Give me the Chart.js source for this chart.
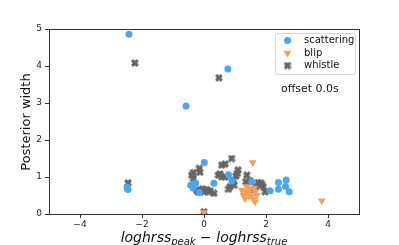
<!DOCTYPE html>
<html>
<head>
<meta charset="utf-8">
<script src="https://cdn.jsdelivr.net/npm/chart.js@4"></script>
<style>
    html, body { margin: 0; padding: 0; background: #fff; }
    #wrap { width: 399px; height: 245px; }
</style>
</head>
<body>
<div id="wrap"><canvas id="posteriorChart" width="399" height="245"></canvas></div>
<script>
const scatteringX = [-2.42, -0.58, 0.77, -2.48, -2.45, -2.47, 0.01, -0.43, -0.35, -0.27, -0.15, 0.32, 0.79, 0.9, 1.54, 2.13, 2.4, 2.4, 2.65, 2.63, 2.75];
const scatteringY = [4.86, 2.92, 3.92, 0.73, 0.66, 0.69, 1.39, 0.78, 0.7, 0.83, 0.58, 0.83, 1.06, 0.9, 0.87, 0.63, 0.85, 0.67, 0.92, 0.74, 0.6];

const blipX = [1.57, 3.8, 0.0, 1.22, 1.27, 1.32, 1.38, 1.43, 1.48, 1.54, 1.59, 1.65, 1.7, 1.65, 1.35, 1.45, 1.62];
const blipY = [1.39, 0.36, 0.04, 0.65, 0.51, 0.42, 0.74, 0.56, 0.69, 0.47, 0.4, 0.6, 0.51, 0.33, 0.6, 0.48, 0.7];

const whistleX = [-2.23, 0.48, -2.45, 0.0,
    -0.4, -0.34, -0.15, -0.13, -0.34, -0.24, -0.2, -0.1, 0.0, 0.1, 0.15, -0.05, 0.05, 0.2, 0.32,
    0.57, 0.68, 0.89, 0.46, 0.57, 0.52, 0.68, 1.1, 1.08, 1.03, 0.84, 0.79, 0.97, 0.95, 1.38, 1.35, 1.48,
    1.75, 1.84, 1.91, 1.97, 1.68, 1.59, 1.86];
const whistleY = [4.08, 3.68, 0.84, 0.06,
    1.05, 1.12, 1.23, 1.13, 0.96, 0.65, 0.6, 0.62, 0.6, 0.66, 0.6, 0.68, 0.64, 0.62, 0.56,
    1.32, 1.35, 1.5, 1.05, 1.0, 1.08, 1.0, 1.19, 1.1, 1.03, 0.74, 0.67, 0.78, 0.92, 1.05, 0.87, 0.9,
    0.85, 0.83, 0.74, 0.6, 0.74, 0.65, 0.8];

const xTicks = [-4, -2, 0, 2, 4];
const yTicks = [0, 1, 2, 3, 4, 5];

const BLUE = '#4aa6f2';
const ORANGE = '#f5a05a';
const GRAY = '#666666';

function toPoints(xs, ys) {
    return xs.map((x, i) => ({ x: x, y: ys[i] }));
}

// filled "X" marker like matplotlib's 'X'
function makeXMarker(size, color) {
    const c = document.createElement('canvas');
    c.width = size;
    c.height = size;
    const g = c.getContext('2d');
    const s = size / 2;
    const w = size * 0.19;
    g.translate(s, s);
    g.rotate(Math.PI / 4);
    g.fillStyle = color;
    g.fillRect(-s, -w, size, 2 * w);
    g.fillRect(-w, -s, 2 * w, size);
    return c;
}
const xMarker = makeXMarker(8, GRAY);

const textPlugin = {
    id: 'textPlugin',
    afterDraw(chart) {
        const ctx = chart.ctx;
        const area = chart.chartArea;
        ctx.save();

        // spines
        ctx.strokeStyle = '#333';
        ctx.lineWidth = 1;
        ctx.strokeRect(Math.round(area.left) + 0.5, Math.round(area.top) + 0.5,
            Math.round(area.right - area.left), Math.round(area.bottom - area.top));

        // legend
        const lx = 275, ly = 33, lw = 80, lh = 41;
        ctx.beginPath();
        ctx.roundRect(lx + 0.5, ly + 0.5, lw, lh, 2);
        ctx.fillStyle = 'rgba(255,255,255,0.8)';
        ctx.fill();
        ctx.strokeStyle = '#d6d6d6';
        ctx.stroke();

        const rows = [
            { label: 'scattering', y: 40.5 },
            { label: 'blip', y: 53 },
            { label: 'whistle', y: 65.5 },
        ];
        ctx.fillStyle = BLUE;
        ctx.beginPath();
        ctx.arc(287.5, rows[0].y, 3.5, 0, Math.PI * 2);
        ctx.fill();
        ctx.fillStyle = ORANGE;
        ctx.strokeStyle = ORANGE;
        Chart.helpers.drawPoint(ctx, { pointStyle: 'triangle', radius: 4.5, rotation: 180, borderWidth: 0 }, 287.5, rows[1].y);
        ctx.drawImage(xMarker, 283.5, rows[2].y - 4);

        ctx.fillStyle = '#111';
        ctx.font = '10px "DejaVu Sans"';
        ctx.textBaseline = 'middle';
        ctx.textAlign = 'left';
        rows.forEach(r => ctx.fillText(r.label, 304, r.y));

        // annotation
        ctx.font = '11px "DejaVu Sans"';
        ctx.fillText('offset 0.0s', 281, 89);

        // y title
        ctx.save();
        ctx.translate(27, 122);
        ctx.rotate(-Math.PI / 2);
        ctx.textAlign = 'center';
        ctx.font = '13px "DejaVu Sans"';
        ctx.fillText('Posterior width', 0, 0);
        ctx.restore();

        // x title with subscripts
        const parts = [
            { t: 'loghrss', f: 'italic 14px "DejaVu Sans"', dy: 0 },
            { t: 'peak', f: 'italic 10px "DejaVu Sans"', dy: 3 },
            { t: ' \u2212 ', f: '14px "DejaVu Sans"', dy: 0 },
            { t: 'loghrss', f: 'italic 14px "DejaVu Sans"', dy: 0 },
            { t: 'true', f: 'italic 10px "DejaVu Sans"', dy: 3 },
        ];
        let total = 0;
        parts.forEach(p => { ctx.font = p.f; p.w = ctx.measureText(p.t).width; total += p.w; });
        let x = 204 - total / 2;
        ctx.textBaseline = 'alphabetic';
        parts.forEach(p => {
            ctx.font = p.f;
            ctx.fillText(p.t, x, 242 + p.dy);
            x += p.w;
        });
        ctx.restore();
    }
};

const chartCtx = document.getElementById('posteriorChart').getContext('2d');

const posteriorChart = new Chart(chartCtx, {
    type: 'scatter',
    data: {
        datasets: [
            {
                label: 'scattering',
                data: toPoints(scatteringX, scatteringY),
                backgroundColor: BLUE,
                borderWidth: 0,
                pointRadius: 3.5,
                pointStyle: 'circle',
            },
            {
                label: 'blip',
                data: toPoints(blipX, blipY),
                backgroundColor: ORANGE,
                borderColor: ORANGE,
                borderWidth: 0,
                pointRadius: 4.5,
                pointStyle: 'triangle',
                rotation: 180,
            },
            {
                label: 'whistle',
                data: toPoints(whistleX, whistleY),
                backgroundColor: GRAY,
                pointStyle: xMarker,
            },
        ],
    },
    options: {
        responsive: false,
        animation: false,
        events: [],
        layout: {
            padding: { left: 0, top: 29, right: 40, bottom: 0 },
        },
        scales: {
            x: {
                type: 'linear',
                min: -5,
                max: 5,
                afterBuildTicks: (scale) => { scale.ticks = xTicks.map(v => ({ value: v })); },
                afterFit: (scale) => { scale.height = 31; },
                grid: {
                    drawOnChartArea: false,
                    drawTicks: true,
                    tickLength: 4,
                    tickColor: '#333',
                },
                border: { display: true, color: '#333' },
                ticks: {
                    color: '#222',
                    padding: 1,
                    font: { family: 'DejaVu Sans', size: 9 },
                    callback: (v) => (v < 0 ? '\u2212' + Math.abs(v) : String(v)),
                },
            },
            y: {
                type: 'linear',
                min: 0,
                max: 5,
                afterBuildTicks: (scale) => { scale.ticks = yTicks.map(v => ({ value: v })); },
                afterFit: (scale) => { scale.width = 49; },
                grid: {
                    drawOnChartArea: false,
                    drawTicks: true,
                    tickLength: 4,
                    tickColor: '#333',
                },
                border: { display: true, color: '#333' },
                ticks: {
                    color: '#222',
                    padding: 3,
                    font: { family: 'DejaVu Sans', size: 9 },
                },
            },
        },
        plugins: {
            legend: { display: false },
            tooltip: { enabled: false },
        },
    },
    plugins: [textPlugin],
});
</script>
</body>
</html>
